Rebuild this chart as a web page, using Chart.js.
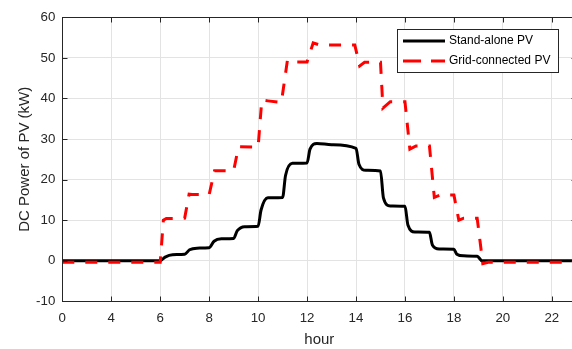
<!DOCTYPE html>
<html lang="en">
<head>
    <meta charset="UTF-8">
    <title>DC Power of PV</title>
    <script src="https://cdn.jsdelivr.net/npm/chart.js"></script>
    <style>
        html, body { margin: 0; padding: 0; background: #fff; overflow: hidden; }
        #pvChart { position: absolute; left: 0; top: 0; }
    </style>
</head>
<body>
    <canvas id="pvChart" width="580" height="349"></canvas>

    <script>
        // x ticks sit every 2 h; the first one carries the label "0"
        const xTickValues = [2, 4, 6, 8, 10, 12, 14, 16, 18, 20, 22];
        const xTickLabels = ['0', '4', '6', '8', '10', '12', '14', '16', '18', '20', '22'];

        // stand-alone PV output (kW), smooth staircase
        const standAloneHours = [2, 6, 6.2, 6.5, 7, 7.2, 7.5, 8, 8.2, 8.5, 9, 9.15, 9.45, 10, 10.12, 10.4, 11, 11.12, 11.4, 12,
            12.12, 12.4, 13, 14, 14.12, 14.4, 15, 15.12, 15.4, 16, 16.12, 16.4, 17, 17.12, 17.4, 18, 18.12, 18.4, 18.95, 19.15, 24];
        const standAlonePower = [0, 0, 0.9, 1.5, 1.6, 2.7, 3.1, 3.2, 4.8, 5.4, 5.5, 7.4, 8.4, 8.5, 12.5, 15.5, 15.6, 21, 24.0, 24.1,
            27.5, 28.9, 28.6, 27.7, 23.8, 22.3, 22.1, 15.5, 13.5, 13.4, 8.8, 7.1, 7.0, 3.9, 2.9, 2.8, 1.6, 1.2, 1.1, 0, 0];

        // grid-connected PV output (kW), hourly steps
        const gridHours = [2, 6, 6.13, 6.25, 7, 7.18, 7.3, 8, 8.22, 9, 9.2, 10, 10.15, 10.4, 10.95, 11.2, 11.6, 12, 12.25, 12.5,
            13.95, 14.15, 14.35, 15, 15.1, 15.4, 16, 16.2, 16.45, 17, 17.2, 17.45, 18, 18.2, 18.4, 18.95, 19.18, 19.4, 24];
        const gridPower = [-0.4, -0.4, 10.0, 10.4, 10.5, 16.4, 16.3, 16.3, 22.2, 22.2, 28.1, 28.0, 39.6, 39.4, 39.0, 49.5, 49.0, 49.0, 53.7, 53.2,
            53.2, 48.0, 48.9, 48.9, 37.6, 39.2, 39.2, 27.5, 28.3, 28.3, 15.6, 16.2, 16.2, 10.0, 10.5, 10.5, -0.7, -0.4, -0.4];

        const seriesNames = ['Stand-alone PV', 'Grid-connected PV'];

        const axisColor = '#262626';
        const gridColor = '#e3e3e3';
        const fontFamily = "'Liberation Sans', Arial, Helvetica, sans-serif";

        const toPoints = (xs, ys) => xs.map((x, i) => ({ x: x, y: ys[i] }));

        // axes box, inward tick marks and the boxed legend
        const framePlugin = {
            id: 'frame',
            afterDraw(chart) {
                const { ctx, chartArea: a, scales: { x, y } } = chart;
                const L = Math.round(a.left) + 0.5, R = Math.round(a.right) + 0.5;
                const T = Math.round(a.top) + 0.5, B = Math.round(a.bottom) + 0.5;
                ctx.save();
                ctx.strokeStyle = axisColor;
                ctx.lineWidth = 1;
                ctx.strokeRect(L, T, R - L, B - T);

                ctx.beginPath();
                xTickValues.forEach(v => {
                    const px = Math.round(x.getPixelForValue(v)) + 0.5;
                    ctx.moveTo(px, B); ctx.lineTo(px, B - 5);
                    ctx.moveTo(px, T); ctx.lineTo(px, T + 5);
                });
                y.ticks.forEach(t => {
                    const py = Math.round(y.getPixelForValue(t.value)) + 0.5;
                    ctx.moveTo(L, py); ctx.lineTo(L + 5, py);
                    ctx.moveTo(R, py); ctx.lineTo(R - 5, py);
                });
                ctx.stroke();

                // legend
                ctx.fillStyle = '#fff';
                ctx.fillRect(397.5, 29.5, 161, 43);
                ctx.strokeStyle = axisColor;
                ctx.strokeRect(397.5, 29.5, 161, 43);

                ctx.lineWidth = 3;
                ctx.strokeStyle = '#000';
                ctx.beginPath(); ctx.moveTo(403, 41); ctx.lineTo(445, 41); ctx.stroke();
                ctx.strokeStyle = '#ff0000';
                ctx.setLineDash([18, 10]);
                ctx.beginPath(); ctx.moveTo(403, 61); ctx.lineTo(445, 61); ctx.stroke();
                ctx.setLineDash([]);

                ctx.fillStyle = '#000';
                ctx.font = '12px ' + fontFamily;
                ctx.textBaseline = 'middle';
                ctx.textAlign = 'left';
                ctx.fillText(seriesNames[0], 449, 41);
                ctx.fillText(seriesNames[1], 449, 61);
                ctx.restore();
            }
        };

        const ctx = document.getElementById('pvChart').getContext('2d');
        new Chart(ctx, {
            type: 'line',
            data: {
                datasets: [{
                    label: seriesNames[0],
                    data: toPoints(standAloneHours, standAlonePower),
                    borderColor: '#000',
                    borderWidth: 3,
                    cubicInterpolationMode: 'monotone',
                    borderJoinStyle: 'round',
                    pointRadius: 0,
                    fill: false,
                    order: 1
                }, {
                    label: seriesNames[1],
                    data: toPoints(gridHours, gridPower),
                    borderColor: '#ff0000',
                    borderWidth: 3,
                    borderDash: [12, 11],
                    tension: 0,
                    pointRadius: 0,
                    fill: false,
                    order: 0
                }]
            },
            options: {
                responsive: false,
                animation: false,
                devicePixelRatio: 1,
                layout: { padding: { top: 17.3, right: 3.7, bottom: 0, left: 0 } },
                plugins: {
                    legend: { display: false },
                    tooltip: { enabled: false }
                },
                scales: {
                    x: {
                        type: 'linear',
                        min: 2,
                        max: 23,
                        afterBuildTicks: scale => {
                            scale.ticks = xTickValues.map(v => ({ value: v }));
                        },
                        afterFit: scale => { scale.height = 47.7; },
                        grid: { color: gridColor, drawTicks: false },
                        border: { display: false },
                        ticks: {
                            autoSkip: false,
                            maxRotation: 0,
                            padding: 9,
                            color: axisColor,
                            font: { family: fontFamily, size: 13.3 },
                            callback: (value, i) => xTickLabels[i]
                        },
                        title: {
                            display: true,
                            text: 'hour',
                            color: axisColor,
                            font: { family: fontFamily, size: 15 },
                            padding: { top: 0, bottom: 0 }
                        }
                    },
                    y: {
                        min: -10,
                        max: 60,
                        afterFit: scale => { scale.width = 62.3; },
                        grid: { color: gridColor, drawTicks: false },
                        border: { display: false },
                        ticks: {
                            stepSize: 10,
                            padding: 7,
                            color: axisColor,
                            font: { family: fontFamily, size: 13.3 }
                        },
                        title: {
                            display: true,
                            text: 'DC Power of PV (kW)',
                            color: axisColor,
                            font: { family: fontFamily, size: 15 },
                            padding: { top: 15.5, bottom: 0 }
                        }
                    }
                }
            },
            plugins: [framePlugin]
        });
    </script>
</body>
</html>
